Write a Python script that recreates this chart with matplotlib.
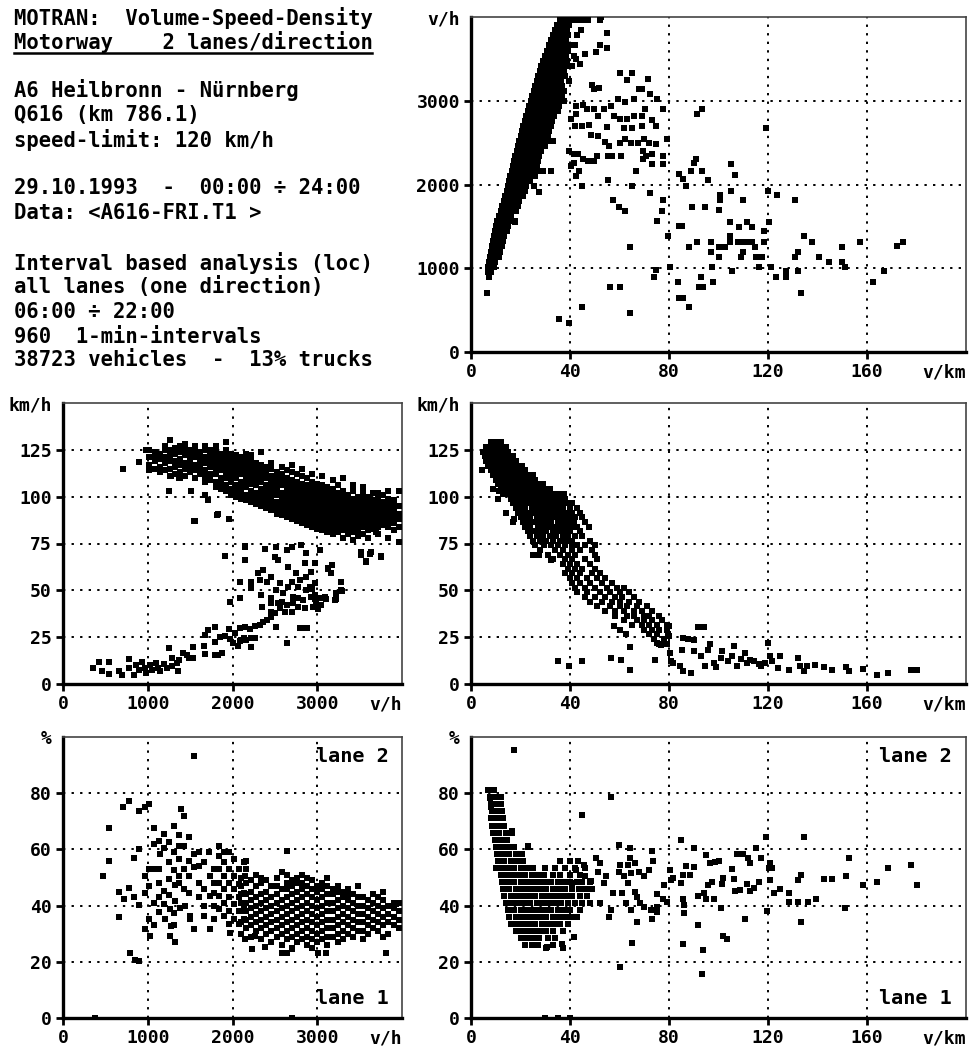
import matplotlib
matplotlib.use('Agg')
import matplotlib.pyplot as plt
from matplotlib.lines import Line2D

FONT = 'DejaVu Sans Mono'
plt.rcParams['font.family'] = FONT
plt.rcParams['font.weight'] = 'bold'

# ── Header block ──────────────────────────────────────────────────────────────
info_lines = [
    'MOTRAN:  Volume-Speed-Density',
    'Motorway    2 lanes/direction',
    'A6 Heilbronn - Nürnberg',
    'Q616 (km 786.1)',
    'speed-limit: 120 km/h',
    '29.10.1993  -  00:00 ÷ 24:00',
    'Data: <A616-FRI.T1 >',
    'Interval based analysis (loc)',
    'all lanes (one direction)',
    '06:00 ÷ 22:00',
    '960  1-min-intervals',
    '38723 vehicles  -  13% trucks',
]
info_ypx = [18, 42, 90, 115, 140, 188, 213, 263, 287, 312, 337, 360]

# ── Volume (v/h) vs density (v/km): dense band as rows (volume, [densities]) ─
flow_band_rows = [
    (700, [6.4]), (900, [7.4]), (960, [7.0, 8.2]), (1020, [7.0, 8.2, 9.4]),
    (1080, [7.4, 8.6, 9.8]), (1140, [7.8, 9.0, 10.2, 11.2]),
    (1200, [8.2, 9.4, 10.6, 11.8]), (1260, [8.6, 9.8, 11.0, 12.4]),
    (1320, [9.0, 10.2, 11.4, 12.8]), (1380, [9.4, 10.6, 11.8, 13.2]),
    (1440, [9.8, 11.0, 12.2, 13.6, 14.6]), (1500, [10.2, 11.4, 12.6, 14.0, 15.0]),
    (1560, [10.6, 11.8, 13.0, 14.4, 15.6, 17.6]), (1620, [11.2, 12.4, 13.6, 14.8, 16.2]),
    (1680, [12.0, 13.2, 14.4, 15.6, 16.8, 18.2]), (1740, [12.6, 13.8, 15.0, 16.2, 17.4, 18.8]),
    (1800, [13.2, 14.4, 15.6, 16.8, 18.0, 19.4]),
    (1860, [13.8, 15.0, 16.2, 17.4, 18.6, 20.0, 21.0]),
    (1920, [14.4, 15.6, 16.8, 18.0, 19.2, 20.6, 22.0]),
    (1980, [15.0, 16.2, 17.4, 18.6, 19.8, 21.0, 22.4, 25.4]),
    (2040, [15.4, 16.6, 17.8, 19.0, 20.2, 21.6, 22.8, 24.0]),
    (2100, [15.8, 17.0, 18.2, 19.4, 20.8, 22.0, 23.2, 24.6, 25.8]),
    (2160, [16.4, 17.6, 18.8, 20.0, 21.2, 22.6, 23.8, 25.0, 26.2, 29.0, 32.4]),
    (2220, [16.8, 18.0, 19.2, 20.6, 21.8, 23.0, 24.2, 25.4, 26.8]),
    (2280, [17.4, 18.6, 19.8, 21.0, 22.2, 23.4, 24.8, 26.0, 27.2]),
    (2340, [17.8, 19.0, 20.2, 21.6, 22.8, 24.0, 25.2, 26.4, 27.6]),
    (2400, [18.4, 19.6, 20.8, 22.0, 23.2, 24.6, 25.8, 27.0, 28.2]),
    (2460, [18.8, 20.0, 21.2, 22.6, 23.8, 25.0, 26.2, 27.4, 28.6, 29.8]),
    (2520, [19.4, 20.6, 21.8, 23.0, 24.2, 25.4, 26.6, 28.0, 29.2, 30.4, 31.8, 33.0]),
    (2580, [20.0, 21.2, 22.4, 23.6, 24.8, 26.0, 27.2, 28.4, 29.8, 31.0]),
    (2640, [20.6, 21.8, 23.0, 24.2, 25.4, 26.6, 27.8, 29.0, 30.2, 31.6]),
    (2700, [21.2, 22.4, 23.6, 24.8, 26.0, 27.4, 28.6, 29.8, 31.0, 32.2]),
    (2760, [21.8, 23.0, 24.2, 25.4, 26.6, 27.8, 29.0, 30.4, 31.6, 32.8]),
    (2820, [22.4, 23.6, 24.8, 26.0, 27.2, 28.4, 29.6, 30.8, 32.2, 33.4]),
    (2880, [23.0, 24.2, 25.4, 26.6, 27.8, 29.0, 30.2, 31.4, 32.6, 34.0, 35.2]),
    (2940, [23.6, 24.8, 26.0, 27.2, 28.4, 29.6, 30.8, 32.0, 33.2, 34.4, 35.6]),
    (3000, [24.2, 25.4, 26.6, 27.8, 29.0, 30.2, 31.4, 32.6, 33.8, 35.0, 36.2, 37.4]),
    (3060, [24.8, 26.0, 27.2, 28.4, 29.6, 30.8, 32.0, 33.2, 34.4, 35.6, 36.8]),
    (3120, [25.4, 26.6, 27.8, 29.0, 30.2, 31.4, 32.6, 33.8, 35.0, 36.2, 37.6]),
    (3180, [26.0, 27.2, 28.4, 29.6, 30.8, 32.0, 33.2, 34.4, 35.6, 36.8]),
    (3240, [26.6, 27.8, 29.0, 30.2, 31.4, 32.6, 33.8, 35.0, 36.2, 39.6]),
    (3300, [27.2, 28.4, 29.6, 30.8, 32.0, 33.2, 34.4, 35.6, 36.8, 38.0]),
    (3360, [27.8, 29.0, 30.2, 31.4, 32.6, 33.8, 35.0, 36.2, 37.4]),
    (3420, [28.4, 29.6, 30.8, 32.0, 33.2, 34.4, 35.6, 36.8, 38.2, 40.8]),
    (3480, [29.0, 30.2, 31.4, 32.6, 33.8, 35.0, 36.2, 37.4, 38.6]),
    (3540, [29.8, 31.0, 32.2, 33.4, 34.6, 35.8, 37.0, 38.4, 41.6]),
    (3600, [30.6, 31.8, 33.0, 34.2, 35.4, 36.6, 37.8, 39.0]),
    (3660, [31.4, 32.6, 33.8, 35.0, 36.2, 37.4, 39.8, 42.0]),
    (3720, [32.2, 33.4, 34.6, 35.8, 37.0, 38.2]),
    (3780, [33.0, 34.2, 35.4, 36.6, 37.8, 39.0, 43.0]),
    (3840, [34.0, 35.2, 36.4, 37.6, 38.8, 44.6]),
    (3900, [34.8, 36.0, 37.2, 38.4, 39.6]),
    (3960, [35.8, 37.0, 38.2, 39.4, 41.0, 42.2, 43.4, 45.8, 47.2, 52.0]),
]
# scattered (density, volume)
flow_scatter = [
    (35.5, 400), (39.6, 350), (45.0, 540), (64.2, 460), (64.2, 1250), (56.0, 780), (60.2, 780),
    (57.4, 1810), (59.8, 1730), (62.3, 1680), (55.4, 2050), (64.9, 1980), (66.5, 2160), (72.2, 1900),
    (77.7, 1810), (77.0, 1680), (75.2, 1560), (74.7, 980), (74.0, 900), (79.6, 1390), (80.6, 1020),
    (83.5, 830), (84.2, 650), (85.7, 650), (87.9, 540), (84.2, 1500), (85.3, 1500), (84.2, 2120),
    (85.7, 2060), (86.9, 1980), (88.2, 1250), (89.4, 1730), (88.9, 2160), (90.1, 2260), (91.0, 2300),
    (93.2, 2160), (94.5, 1730), (95.7, 2050), (91.3, 1310), (93.0, 890), (92.3, 780), (93.8, 780),
    (97.9, 830), (97.1, 1200), (97.1, 1310), (97.4, 1020), (100.0, 1250), (100.4, 1130), (100.0, 1690),
    (100.8, 1820), (100.8, 1870), (102.6, 1250), (104.8, 1550), (104.8, 1390), (104.8, 1310),
    (105.0, 1920), (105.2, 2240), (106.5, 2110), (105.5, 970), (108.4, 1490), (107.7, 1310),
    (109.9, 1310), (112.1, 1310), (109.0, 1130), (109.9, 1820), (109.9, 1200), (111.6, 1550),
    (113.6, 1490), (113.6, 1310), (114.7, 1250), (115.0, 1130), (116.2, 1130), (116.2, 1020),
    (117.7, 1130), (118.4, 1440), (118.4, 1310), (119.1, 2670), (119.9, 1920), (120.4, 1550),
    (121.3, 1020), (123.1, 890), (123.8, 1870), (127.2, 970), (127.2, 890), (130.8, 1130),
    (130.8, 1810), (132.3, 1200), (132.3, 970), (133.3, 700), (134.5, 1390), (137.7, 1310),
    (140.7, 1130), (144.7, 1080), (149.9, 1250), (149.7, 1080), (151.2, 1020), (157.1, 1310),
    (162.6, 840), (166.7, 970), (172.2, 1260), (174.4, 1310), (91.3, 2840), (93.2, 2900),
    (60.0, 3330), (65.2, 3330), (71.4, 3260), (63.0, 3250), (49.0, 3190), (51.9, 3150), (49.5, 3140),
    (72.5, 3080), (75.0, 3020), (59.2, 3020), (62.3, 2990), (65.9, 3020), (67.7, 3140), (68.9, 3140),
    (70.3, 2900), (77.7, 2900), (79.1, 2540), (51.3, 2820), (53.8, 2900), (56.4, 2940), (57.6, 2820),
    (60.1, 2780), (63.0, 2780), (65.9, 2820), (68.9, 2820), (73.3, 2770), (74.7, 2700), (61.8, 2670),
    (65.2, 2670), (68.9, 2700), (55.0, 2690), (47.6, 2710), (44.7, 2700), (42.2, 2700), (40.3, 2780),
    (42.5, 2940), (45.1, 2950), (46.9, 2900), (49.8, 2900), (42.5, 2840), (48.4, 2590), (51.3, 2580),
    (54.2, 2510), (55.7, 2460), (60.1, 2490), (62.3, 2540), (64.5, 2490), (67.4, 2490), (70.0, 2540),
    (71.8, 2500), (74.7, 2480), (69.6, 2400), (70.6, 2340), (73.3, 2360), (77.7, 2340), (69.6, 2300),
    (73.0, 2240), (77.7, 2240), (55.4, 2340), (57.1, 2340), (60.8, 2340), (45.4, 2310), (47.2, 2280),
    (49.5, 2280), (51.0, 2340), (41.8, 2360), (43.2, 2360), (41.8, 2260), (40.3, 2220), (39.6, 2400),
    (42.5, 2100), (45.0, 1980), (43.7, 2160), (27.8, 2160), (32.2, 2160), (27.5, 1910), (17.6, 1550),
    (20.5, 1860), (52.0, 3670), (55.0, 3630), (55.0, 3810), (50.5, 3580), (46.2, 3560), (52.5, 4000),
    (44.0, 3440), (42.5, 3500),
]

# ── Speed (km/h) vs volume (v/h): free-flow band as columns (volume, [speeds])
speed_vol_cols = [
    (1020, [114, 117, 121, 125]), (1080, [115, 119, 122, 124]), (1140, [113, 116, 120, 123]),
    (1200, [114, 118, 121, 125, 127]), (1260, [111, 115, 119, 122, 125, 130]),
    (1320, [112, 116, 119, 123, 126]), (1380, [110, 113, 117, 120, 124, 127]),
    (1440, [111, 115, 118, 122, 125, 128]), (1500, [113, 116, 119, 122, 125]),
    (1560, [110, 114, 117, 121, 124, 127]), (1620, [112, 115, 118, 121, 124]),
    (1680, [108, 111, 114, 118, 121, 125, 127]), (1740, [109, 112, 116, 119, 122, 125]),
    (1800, [105, 108, 112, 115, 118, 121, 124, 127]),
    (1860, [104, 107, 110, 114, 117, 120, 123]),
    (1920, [103, 106, 110, 113, 116, 119, 122, 125, 129]),
    (1980, [101, 104, 108, 111, 114, 117, 120, 123]),
    (2040, [100, 103, 106, 110, 113, 116, 119, 122]),
    (2100, [99, 102, 105, 108, 112, 115, 118, 121]),
    (2160, [98, 101, 105, 108, 111, 114, 117, 120, 123]),
    (2220, [97, 100, 103, 107, 110, 113, 116, 119, 122]),
    (2280, [96, 99, 102, 106, 109, 112, 115, 118]),
    (2340, [95, 98, 101, 104, 108, 111, 114, 117, 124]),
    (2400, [94, 97, 100, 103, 106, 110, 113, 116]),
    (2460, [93, 96, 99, 102, 105, 108, 111, 115, 118]),
    (2520, [91, 94, 97, 101, 104, 107, 110, 113]),
    (2580, [90, 93, 96, 99, 102, 106, 109, 112, 116]),
    (2640, [89, 92, 95, 98, 101, 104, 107, 110, 114]),
    (2700, [88, 91, 94, 97, 100, 103, 106, 109, 113, 117]),
    (2760, [87, 90, 93, 96, 99, 102, 105, 108, 112]),
    (2820, [86, 89, 92, 95, 98, 101, 104, 107, 111, 115]),
    (2880, [85, 88, 91, 94, 97, 100, 103, 106, 110]),
    (2940, [84, 87, 90, 93, 96, 99, 102, 105, 108, 112]),
    (3000, [83, 86, 89, 92, 95, 98, 101, 104, 107]),
    (3060, [82, 85, 88, 91, 94, 97, 100, 103, 106, 111]),
    (3120, [81, 84, 87, 90, 93, 96, 99, 102, 105]),
    (3180, [80, 83, 86, 89, 92, 95, 98, 101, 104, 109]),
    (3240, [81, 84, 87, 90, 93, 96, 99, 102, 106]),
    (3300, [78, 82, 85, 88, 91, 94, 97, 100, 103, 110]),
    (3360, [80, 83, 86, 89, 92, 95, 98, 101]),
    (3420, [77, 81, 84, 87, 90, 93, 96, 99, 103, 106]),
    (3480, [79, 82, 85, 88, 91, 94, 97, 100]),
    (3540, [80, 84, 87, 90, 93, 96, 99, 102, 105]),
    (3600, [78, 82, 85, 88, 91, 94, 97, 100]),
    (3660, [83, 86, 89, 92, 95, 98, 102]),
    (3720, [80, 84, 87, 90, 93, 96, 99, 102]),
    (3780, [85, 88, 91, 94, 97, 101]),
    (3840, [78, 84, 87, 90, 93, 96, 99, 103]),
    (3900, [82, 86, 89, 92, 95, 98]),
    (3960, [76, 84, 88, 91, 95, 103]),
]
# scattered and congested branch (volume, speed)
speed_vol_scatter = [
    (712, 114.8), (892, 118.4), (978, 125), (1251, 103.2), (1506, 103.2), (1545, 87.1), (1818, 90.2),
    (1916, 68.4), (2151, 73.4), (2143, 66.3), (1955, 88), (2385, 72), (3520, 70.2), (3578, 65.7),
    (3754, 68.4), (3637, 70.2), (3696, 80.9), (2640, 22), (2796, 30), (2874, 30), (3129, 61.3),
    (3168, 59.5), (3285, 50), (3226, 45.2), (3109, 45.2), (3011, 39.8), (2972, 45.2), (2933, 50.5),
    (1369, 110), (1271, 111), (1713, 98), (1674, 101), (1830, 91), (1553, 87),
    (357, 8.7), (423, 11.9), (540, 11.6), (462, 6.9), (548, 5.2), (658, 6.9), (697, 4.8), (775, 13.2),
    (783, 8.4), (834, 4.8), (861, 10.1), (892, 7.5), (931, 11.9), (963, 8.4), (978, 5.7), (1029, 10.1),
    (1049, 7.5), (1096, 11), (1119, 8.7), (1147, 7.1), (1197, 10.7), (1225, 8.4), (1245, 19),
    (1284, 13.7), (1292, 9.6), (1342, 11), (1369, 12.8), (1362, 7.1), (1420, 16.4), (1459, 15.5),
    (1487, 13.7), (1537, 19.6), (1537, 13.7), (1674, 26.2), (1713, 28.8), (1792, 30.2), (1667, 20.3),
    (1674, 15.8), (1792, 15.5), (1831, 15.5), (1878, 16.4), (1792, 22.6), (1851, 24.9), (1910, 25.6),
    (1957, 29.2), (1976, 23.8), (2008, 21.7), (2027, 27), (2066, 20.3), (2086, 23.1), (2105, 23.5),
    (2137, 24.4), (2164, 23.5), (2215, 19.9), (2223, 24.4), (2270, 24.4), (2086, 29.7), (2144, 30.6),
    (2203, 29.2), (2262, 31), (2320, 31.5), (2360, 33.3), (2411, 34.2), (2458, 35.6), (2458, 38.6),
    (2497, 37.7), (2517, 30.6), (2560, 40.4), (2540, 43), (2618, 38.6), (2638, 42.2), (2638, 21.7),
    (2697, 38.6), (2716, 43), (2775, 45.7), (2775, 41.3), (2853, 40.4), (2794, 29.7), (2853, 29.7),
    (2834, 44.8), (2873, 50.2), (2912, 52), (2924, 46.6), (2971, 47.5), (2951, 41.3), (2990, 43),
    (2086, 45.7), (2086, 54.6), (1967, 43.9), (2223, 54.6), (2223, 51.1), (2301, 59.1), (2360, 60.9),
    (2320, 55.5), (2411, 54.6), (2458, 57.3), (2340, 47.5), (2348, 41.3), (2458, 45.7), (2458, 43),
    (2517, 50.2), (2560, 53.7), (2579, 43.9), (2599, 48.4), (2658, 62.6), (2658, 52), (2697, 54.6),
    (2716, 46.6), (2755, 59.1), (2775, 52), (2794, 55.5), (2873, 57.3), (2853, 64.4), (2931, 60),
    (2971, 53.7), (3029, 45.7), (3049, 42.2), (3088, 46.6), (3127, 61.7), (3158, 59.1), (3205, 44.8),
    (3217, 48.4), (3283, 54.6), (3291, 49.8), (2497, 68), (2536, 66.2), (2517, 73.3), (2638, 71.5),
    (2697, 73.3), (2144, 73.3), (2144, 66.2), (1910, 68.3), (2806, 74.2), (2873, 69.8), (2971, 64.4),
    (3037, 71.5), (3170, 63.5), (3515, 68.9), (3576, 65.3), (3627, 69.4), (3752, 68),
]

# ── Speed (km/h) vs density (v/km): main cloud as rows (speed, [densities]) ──
speed_dens_rows = [
    (129, [8, 10, 12]), (126.5, [6, 8, 10, 12, 14]), (124, [5, 7, 9, 11, 13, 15]),
    (121.5, [5.5, 7.5, 9.5, 11.5, 13.5, 15.5, 17]), (119, [6, 8, 10, 12, 14, 16, 18]),
    (116.5, [7, 9, 11, 13, 15, 17, 19, 20.5]), (114, [4.5, 8, 10, 12, 14, 16, 18, 20, 22]),
    (111.5, [9, 11, 13, 15, 17, 19, 21, 23, 25]), (109, [10, 12, 14, 16, 18, 20, 22, 24, 26]),
    (106.5, [11, 13, 15, 17, 19, 21, 23, 25, 27, 29]),
    (104, [9, 12, 14, 16, 18, 20, 22, 24, 26, 28, 30, 32]),
    (101.5, [13, 15, 17, 19, 21, 23, 25, 27, 29, 31, 33, 35, 37.5]),
    (99, [11, 16, 18, 20, 22, 24, 26, 28, 30, 32, 34, 36, 38]),
    (96.5, [17, 19, 21, 23, 25, 27, 29, 31, 33, 35, 37, 39, 41]),
    (94, [18, 20, 22, 24.5, 27, 29, 31, 33, 35, 37, 40, 43]),
    (91.5, [14, 19, 21, 23, 25, 27.5, 30, 32, 34, 36, 38.5, 41, 44]),
    (89, [20, 22, 24, 26.5, 29, 31, 33, 35.5, 38, 40, 42, 45]),
    (86.5, [17, 21, 23.5, 26, 28, 30, 32.5, 35, 37, 39.5, 41.5, 46]),
    (84, [22, 24, 27, 29, 31.5, 34, 36, 38, 40.5, 43, 47.5]),
    (81.5, [23, 25.5, 28, 30.5, 33, 35, 37.5, 40, 44]),
    (79, [24, 26.5, 29, 32, 34.5, 37, 39, 42, 45]),
    (76.5, [25, 28, 30.5, 33, 36, 38.5, 41, 48]),
    (74, [26, 29.5, 32.5, 35, 38, 41, 43, 46, 50]),
    (71.5, [28, 34, 37, 41, 44, 49]), (69, [25, 31, 36, 39, 42, 50]),
    (66.5, [33, 38, 41, 46, 51]), (64, [37, 40, 43, 48]),
    (61.5, [39, 42, 45, 50]), (59, [38, 41, 44, 49, 52]),
    (56.5, [40, 43, 47, 51, 54]), (54, [41, 44, 48, 53, 57]),
    (51.5, [42, 46, 50, 55, 59, 62]), (49, [43, 47, 52, 56, 60, 64]),
    (46.5, [46, 50, 54, 58, 61, 66]), (44, [48, 53, 57, 60, 64, 68]),
    (41.5, [51, 56, 60, 63, 67, 71]), (39, [54, 58, 62, 66, 69, 73]),
    (36.5, [58, 63, 66, 70, 72, 76]), (34, [62, 67, 70, 73, 77]),
    (31.5, [65, 69, 72, 75, 79]), (29, [70, 73, 76, 79]),
    (26.5, [72, 75, 79.5]), (24, [74, 78]), (21.5, [76, 79]),
]
# tail (density, speed)
speed_dens_scatter = [
    (35.1, 12.1), (39.6, 9.4), (45.0, 12.1), (56.6, 13.9), (60.7, 13.0), (64.4, 19.6), (64.4, 7.7),
    (57.8, 30.8), (60.3, 28.6), (62.5, 26.9), (74.4, 12.6), (75.1, 21.9), (76.9, 21.0), (80.0, 25.4),
    (80.0, 30.8), (80.3, 16.5), (81.0, 12.1), (81.8, 11.2), (84.3, 9.4), (85.5, 6.8), (88.9, 5.9),
    (85.5, 24.6), (87.7, 24.0), (90.0, 23.7), (91.7, 30.2), (94.0, 30.2), (85.2, 18.3), (90.0, 17.4),
    (92.9, 14.8), (95.6, 18.3), (96.6, 21.4), (94.4, 9.4), (98.1, 11.2), (99.1, 8.9), (101.0, 13.9),
    (101.5, 17.4), (104.0, 12.1), (105.5, 15.1), (106.2, 20.1), (107.4, 9.4), (109.2, 13.3),
    (110.7, 16.5), (111.4, 11.2), (112.9, 13.0), (114.4, 12.1), (116.3, 10.9), (117.3, 9.4),
    (118.8, 11.2), (120.0, 21.9), (120.7, 14.8), (121.8, 12.1), (124.0, 8.5), (124.7, 14.8),
    (128.4, 7.7), (132.1, 13.9), (132.9, 9.4), (134.4, 6.8), (135.9, 9.8), (139.1, 10.0),
    (142.5, 8.9), (145.9, 7.7), (151.4, 8.9), (152.9, 6.8), (158.4, 8.2), (164.0, 5.0),
    (168.4, 5.9), (177.6, 7.7), (180.3, 7.7), (11.2, 102.8), (17.3, 88), (27.4, 69), (32.4, 66.4),
]

# ── Lane-2 share (%) vs volume (v/h) ──────────────────────────────────────────
share_vol_cols = [
    (2100, [30, 34, 38, 41, 44, 47, 50]), (2160, [32, 35, 38, 41, 44, 48, 53, 56]),
    (2220, [29, 33, 36, 39, 42, 45, 49]), (2280, [31, 34, 37, 40, 43, 47, 51]),
    (2340, [28, 32, 35, 38, 41, 44, 48, 50]), (2400, [30, 33, 36, 39, 42, 45, 49]),
    (2460, [27, 31, 34, 37, 40, 43, 47]), (2520, [29, 32, 35, 38, 41, 44, 47, 50]),
    (2580, [26, 30, 33, 36, 39, 42, 46, 52]), (2640, [28, 31, 34, 37, 40, 43, 46, 48, 51]),
    (2700, [25, 29, 32, 35, 38, 41, 44, 47, 49]), (2760, [27, 30, 33, 36, 39, 42, 45, 48, 50]),
    (2820, [28, 31, 34, 37, 40, 43, 46, 48, 51]), (2880, [26, 29, 32, 35, 38, 41, 44, 47, 50]),
    (2940, [25, 28, 31, 34, 37, 40, 43, 46, 49]), (3000, [27, 30, 33, 36, 39, 42, 45, 47]),
    (3060, [28, 31, 34, 37, 40, 43, 46, 48]), (3120, [26, 29, 32, 35, 38, 41, 44, 47, 50]),
    (3180, [29, 32, 35, 38, 41, 44, 46]), (3240, [27, 30, 33, 36, 39, 42, 45, 47]),
    (3300, [28, 31, 34, 37, 40, 43, 45]), (3360, [30, 33, 36, 39, 42, 44, 46]),
    (3420, [29, 32, 35, 38, 41, 44]), (3480, [31, 34, 37, 40, 43, 47]),
    (3540, [28, 31, 34, 37, 40, 43]), (3600, [30, 33, 36, 39, 42]),
    (3660, [32, 35, 38, 41, 44]), (3720, [31, 34, 37, 40, 43]),
    (3780, [29, 33, 36, 39, 42, 45]), (3840, [30, 34, 37, 40]),
    (3900, [33, 36, 39, 41]), (3960, [32, 35, 38, 41]),
]
share_vol_scatter = [
    (477, 50.4), (548, 67.5), (548, 56), (657, 45), (657, 36.1), (712, 75), (716, 42.3), (782, 77.4),
    (782, 46.2), (790, 23.2), (841, 56.9), (841, 43.2), (853, 20.8), (892, 73.5), (892, 60.1),
    (892, 40.2), (900, 20.2), (966, 75), (966, 50.6), (966, 44.4), (966, 31.5), (1017, 76.2),
    (1017, 53), (1017, 47), (1017, 35.1), (1025, 29.2), (1075, 67.5), (1075, 61.9), (1075, 53),
    (1075, 41.1), (1075, 33), (1134, 63.1), (1142, 58.3), (1134, 53), (1134, 48), (1134, 42.9),
    (1134, 37.7), (1193, 65.5), (1193, 60.4), (1193, 45.2), (1193, 40.5), (1201, 35.1), (1251, 62.5),
    (1251, 55.4), (1251, 49.6), (1251, 43.7), (1259, 38.7), (1259, 29.2), (1271, 32.7), (1310, 68.2),
    (1310, 58.9), (1310, 52.7), (1318, 47.4), (1318, 41.7), (1310, 37.3), (1310, 33), (1318, 27),
    (1369, 65.2), (1369, 61.3), (1369, 56.5), (1369, 50.6), (1369, 48.2), (1377, 39.3), (1388, 74.4),
    (1428, 72), (1428, 61.3), (1428, 53), (1428, 45.8), (1435, 39.9), (1486, 64.3), (1486, 56),
    (1486, 50.6), (1486, 44.6), (1494, 36.3), (1498, 35.1), (1545, 31.5), (1549, 58.3), (1545, 53.6),
    (1545, 93.2), (1603, 58.9), (1603, 54.2), (1603, 48.2), (1603, 42.9), (1662, 45.8), (1662, 39.9),
    (1662, 36.3), (1662, 55.4), (1721, 58.9), (1729, 50.6), (1729, 43.5), (1729, 31.5), (1779, 53),
    (1779, 48.2), (1779, 44.6), (1787, 39.9), (1787, 35.1), (1838, 61.3), (1838, 57.7), (1838, 53),
    (1838, 48.2), (1838, 43.5), (1838, 38.7), (1897, 58.9), (1897, 55.4), (1897, 50.6), (1897, 45.8),
    (1897, 41.1), (1897, 36.3), (1955, 58.9), (1955, 53), (1955, 48.2), (1955, 42.9), (1955, 38.1),
    (1955, 33.3), (1975, 30.1), (2014, 56.5), (2014, 50.6), (2014, 45.8), (2014, 40.5), (2014, 35.1),
    (2073, 53), (2073, 47.6), (2073, 42.9), (2073, 38.1), (2073, 33.3), (2131, 55.4), (2151, 50.6),
    (2131, 44.6), (2131, 39.9), (2131, 35.1), (2151, 28), (2229, 24.4), (2268, 29.2), (2385, 25.4),
    (2581, 23.2), (2640, 23.2), (2698, 24.4), (2640, 59.3), (3011, 23.2), (3109, 23.2), (3813, 23.2),
    (372, 0), (2700, 0),
]

# ── Lane-2 share (%) vs density (v/km) ────────────────────────────────────────
share_dens_rows = [
    (81, [7, 9]), (78.5, [7.5, 10, 12]), (76, [8, 10.5]), (73.5, [8.5, 11, 12.5]),
    (71, [8, 10.5, 13]), (68.5, [8.5, 11, 13.5]), (66, [9, 11.5, 14, 16.6]),
    (63.5, [9.5, 12, 14.5]), (61, [10, 12.5, 15, 17.5, 23]),
    (58.5, [10.5, 13, 15.5, 18, 20.5]), (56, [11, 13.5, 16, 18.5, 21, 36, 40]),
    (53.5, [10, 12.5, 15, 17.5, 20, 22.5, 25, 30, 34, 38, 42, 46]),
    (51, [12, 14.5, 17, 19.5, 22, 24.5, 27, 29.5, 33, 36, 40, 44]),
    (48.5, [12.5, 15, 17.5, 20, 22.5, 25, 27.5, 30, 32.5, 35, 37.5, 40, 43, 45, 48]),
    (46, [13, 15.5, 18, 20.5, 23, 25.5, 28, 30.5, 33, 35.5, 38, 41, 43.5, 46, 49]),
    (43.5, [13.5, 16, 18.5, 21, 23.5, 26, 28.5, 31, 33.5, 36, 38.5, 41, 44, 47]),
    (41, [14, 16.5, 19, 21.5, 24, 26.5, 29, 31.5, 34, 36.5, 39, 42, 45, 48, 52]),
    (38.5, [15, 17.5, 20, 22.5, 25, 27.5, 30, 32.5, 35, 37.5, 40, 44]),
    (36, [15.5, 18, 20.5, 23, 25.5, 28, 30.5, 33, 35.5, 38, 40.5, 43]),
    (33.5, [16, 18.5, 21, 23.5, 26, 28.5, 31, 33.5, 36, 39]),
    (31, [18, 20.5, 23, 25.5, 28, 30.5, 33, 37]),
    (28.5, [20, 22.5, 25, 27.5, 31, 34]), (26, [22, 24.5, 27, 33]), (25, [30.5, 37]),
]
share_dens_scatter = [
    (17.5, 95.4), (7.0, 81.1), (9.2, 81.1), (7.7, 78.3), (8.0, 75.1), (12.1, 76.3), (16.6, 66.4),
    (23.0, 61.3), (56.6, 78.7), (45.0, 72.4), (59.6, 61.4), (64.4, 60.4), (64.4, 57.1), (73.3, 59.5),
    (84.7, 63.2), (89.9, 60.5), (95.1, 58.1), (96.6, 55.1), (100.3, 55.7), (107.4, 58.3), (109.9, 58.3),
    (112.1, 56.9), (112.9, 55.1), (115.1, 60.4), (117.3, 56.9), (119.3, 64.3), (120.3, 53.3),
    (121.8, 53.3), (120.7, 55.1), (119.6, 38.2), (121.0, 49.2), (122.5, 44.4), (124.7, 46.0),
    (128.4, 44.4), (128.4, 41.2), (132.1, 41.2), (132.1, 49.2), (133.3, 51.0), (133.3, 34.3),
    (134.7, 64.3), (136.0, 41.2), (139.3, 42.3), (142.5, 49.4), (145.9, 49.4), (151.1, 39.0),
    (151.7, 50.4), (152.9, 57.1), (158.4, 47.4), (164.0, 48.3), (168.4, 53.3), (177.6, 54.3),
    (180.3, 47.4), (85.5, 26.5), (91.7, 33.1), (93.6, 24.2), (93.2, 15.8), (101.8, 29.2),
    (103.3, 28.0), (60.3, 18.0), (65.0, 26.8), (67.0, 34.0), (73.3, 35.1), (86.2, 37.5), (86.2, 40.2),
    (85.5, 42.4), (84.7, 48.2), (85.5, 51.0), (86.7, 54.2), (88.4, 51.0), (90.0, 53.6), (91.7, 43.5),
    (94.1, 44.4), (95.1, 42.4), (95.9, 47.4), (97.5, 48.3), (98.1, 42.4), (98.5, 55.4), (101.0, 39.0),
    (101.5, 47.6), (101.8, 49.8), (105.5, 53.1), (106.2, 49.5), (106.7, 45.2), (108.5, 45.6),
    (111.4, 47.6), (110.7, 35.1), (112.9, 45.2), (114.4, 46.2), (116.3, 48.3), (80.3, 52.6),
    (81.0, 49.2), (77.8, 47.4), (75.1, 44.2), (77.4, 42.3), (79.0, 41.4), (81.8, 49.8), (72.1, 52.7),
    (73.6, 55.7), (69.9, 50.4), (67.7, 52.1), (68.4, 40.8), (69.9, 39.6), (72.9, 38.5), (75.1, 39.6),
    (75.1, 37.6), (66.2, 45.0), (67.0, 43.2), (64.7, 38.5), (62.5, 40.8), (61.0, 44.4), (63.3, 48.0),
    (61.8, 50.4), (64.7, 51.5), (63.3, 54.5), (66.2, 55.1), (60.3, 54.5), (59.6, 52.1), (57.3, 44.4),
    (56.6, 38.5), (55.9, 36.1), (54.4, 50.4), (53.6, 48.0), (52.1, 55.1), (51.4, 52.1), (50.7, 56.9),
    (48.4, 48.6), (48.4, 45.8), (46.2, 50.4), (45.5, 54.5), (43.3, 55.7), (42.5, 52.7), (41.0, 48.0),
    (41.8, 28.9), (36.6, 26.5), (30.7, 25.4), (30, 0), (35, 0), (40, 0),
]

dens_ticks = [0, 40, 80, 120, 160]
vol_ticks = [0, 1000, 2000, 3000]
speed_ticks = [0, 25, 50, 75, 100, 125]
share_ticks = [0, 20, 40, 60, 80]


def from_rows(rows):
    xs, ys = [], []
    for y, row in rows:
        for x in row:
            xs.append(x)
            ys.append(y)
    return xs, ys


def from_cols(cols):
    xs, ys = [], []
    for x, col in cols:
        for y in col:
            xs.append(x)
            ys.append(y)
    return xs, ys


def from_pairs(pairs):
    return [p[0] for p in pairs], [p[1] for p in pairs]


W, H = 974, 1052
fig = plt.figure(figsize=(W / 100, H / 100), dpi=100)


def add_axes(x0, x1, y0, y1):
    return fig.add_axes([x0 / W, 1 - y1 / H, (x1 - x0) / W, (y1 - y0) / H])


def style(ax, xmax, ymax, xticks, yticks, xunit, yunit):
    ax.set_xlim(0, xmax)
    ax.set_ylim(0, ymax)
    dots = (0, (1.2, 3.2))
    for v in xticks[1:]:
        ax.axvline(v, color='k', lw=1.4, ls=dots, zorder=0)
    for v in yticks[1:]:
        ax.axhline(v, color='k', lw=1.4, ls=dots, zorder=0)
    ax.set_xticks(xticks + [xmax])
    ax.set_xticklabels([str(t) for t in xticks] + [xunit])
    ax.set_yticks(yticks + [ymax])
    ax.set_yticklabels([str(t) for t in yticks] + [yunit])
    ax.tick_params(direction='out', length=5, width=2, labelsize=13, pad=3)
    for lab in ax.get_xticklabels() + ax.get_yticklabels():
        lab.set_fontweight('bold')
        lab.set_family(FONT)
    ax.get_xticklabels()[-1].set_ha('right')
    ax.xaxis.get_major_ticks()[-1].tick1line.set_visible(False)
    ax.yaxis.get_major_ticks()[-1].tick1line.set_visible(False)
    for s in ('left', 'bottom'):
        ax.spines[s].set_linewidth(2.4)
        ax.spines[s].set_color('k')
    for s in ('top', 'right'):
        ax.spines[s].set_linewidth(1.2)
        ax.spines[s].set_color('#444444')


def dots_plot(ax, xs, ys):
    ax.scatter(xs, ys, marker='s', s=14, c='k', linewidths=0, zorder=3)


# header
for line, ypx in zip(info_lines, info_ypx):
    fig.text(14 / W, 1 - ypx / H, line, fontsize=14.8, fontweight='bold',
             family=FONT, ha='left', va='center')
fig.add_artist(Line2D([14 / W, 372 / W], [1 - 53 / H, 1 - 53 / H], lw=1.8, color='k'))

# top right: volume vs density
ax = add_axes(471, 966, 17, 352)
style(ax, 200, 4000, dens_ticks, vol_ticks, 'v/km', 'v/h')
x, y = from_rows(flow_band_rows)
dots_plot(ax, x, y)
x, y = from_pairs(flow_scatter)
dots_plot(ax, x, y)

# middle left: speed vs volume
ax = add_axes(63, 402, 403, 684)
style(ax, 4000, 150, vol_ticks, speed_ticks, 'v/h', 'km/h')
x, y = from_cols(speed_vol_cols)
dots_plot(ax, x, y)
x, y = from_pairs(speed_vol_scatter)
dots_plot(ax, x, y)

# middle right: speed vs density
ax = add_axes(471, 966, 403, 684)
style(ax, 200, 150, dens_ticks, speed_ticks, 'v/km', 'km/h')
x, y = from_rows(speed_dens_rows)
dots_plot(ax, x, y)
x, y = from_pairs(speed_dens_scatter)
dots_plot(ax, x, y)

# bottom left: lane share vs volume
ax = add_axes(63, 402, 737, 1018)
style(ax, 4000, 100, vol_ticks, share_ticks, 'v/h', '%')
x, y = from_cols(share_vol_cols)
dots_plot(ax, x, y)
x, y = from_pairs(share_vol_scatter)
dots_plot(ax, x, y)
ax.text(0.96, 0.93, 'lane 2', transform=ax.transAxes, ha='right', va='center',
        fontsize=14.5, fontweight='bold', family=FONT)
ax.text(0.96, 0.07, 'lane 1', transform=ax.transAxes, ha='right', va='center',
        fontsize=14.5, fontweight='bold', family=FONT)

# bottom right: lane share vs density
ax = add_axes(471, 966, 737, 1018)
style(ax, 200, 100, dens_ticks, share_ticks, 'v/km', '%')
x, y = from_rows(share_dens_rows)
dots_plot(ax, x, y)
x, y = from_pairs(share_dens_scatter)
dots_plot(ax, x, y)
ax.text(0.972, 0.93, 'lane 2', transform=ax.transAxes, ha='right', va='center',
        fontsize=14.5, fontweight='bold', family=FONT)
ax.text(0.972, 0.07, 'lane 1', transform=ax.transAxes, ha='right', va='center',
        fontsize=14.5, fontweight='bold', family=FONT)

fig.savefig('out.png', dpi=100)
